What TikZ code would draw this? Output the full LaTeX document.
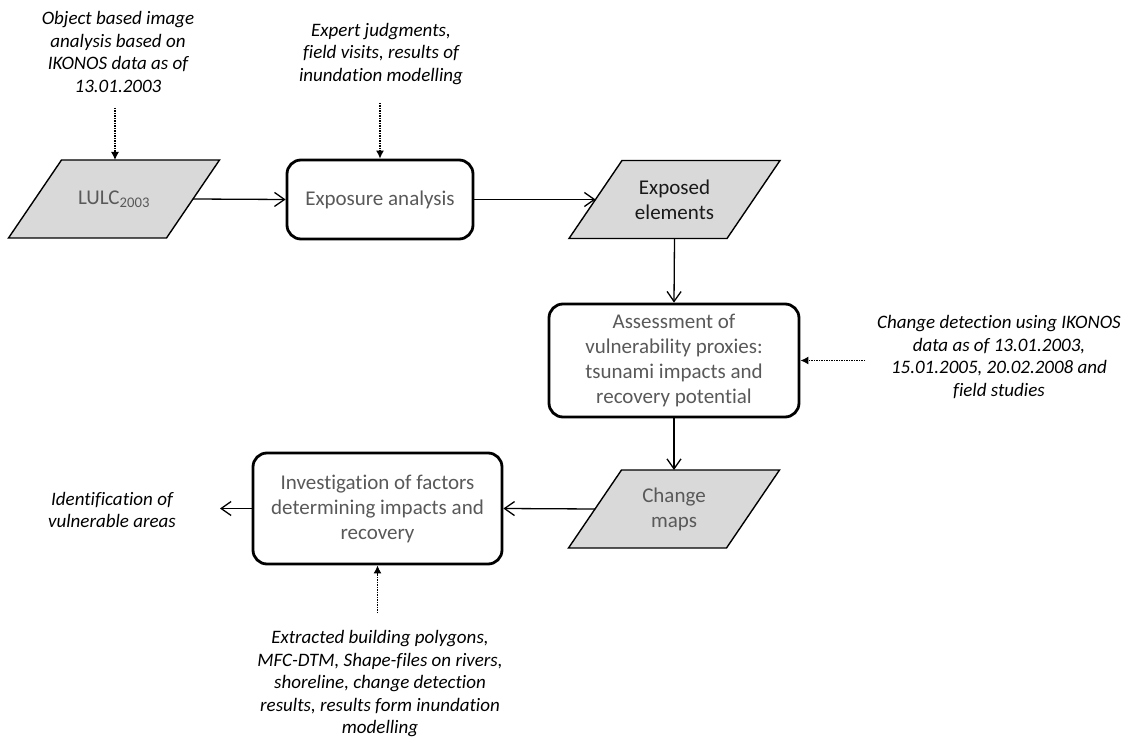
\documentclass[tikz,border=0pt]{standalone}
\usepackage{fontspec}
\setmainfont{Carlito}[Ligatures={NoCommon,NoRare}]
\usetikzlibrary{arrows.meta,backgrounds}
\definecolor{boxtext}{HTML}{595959}
\definecolor{datafill}{HTML}{D9D9D9}
\begin{document}
\begin{tikzpicture}[x=1pt,y=-1pt,
  process/.style={draw=black, line width=2.8pt, rounded corners=14pt, fill=white,
    inner sep=0pt, text=boxtext, font=\fontsize{21}{25}\selectfont, align=center},
  % text area of a data set; the slanted outline is drawn behind it
  dataset/.style={rectangle, inner sep=0pt, outer sep=0pt,
    minimum width=158pt, minimum height=78pt,
    font=\fontsize{21}{25}\selectfont, align=center, text=boxtext},
  datashape/.style={draw=black, line width=1.4pt, fill=datafill},
  note/.style={font=\fontsize{19}{22.5}\selectfont\itshape, align=center,
    inner sep=0pt, text=black},
  flow/.style={line width=1.3pt, -{Straight Barb[length=10pt,width=14pt,line width=1.3pt]}},
  feed/.style={line width=1.3pt, dash pattern=on 1.2pt off 1.3pt,
    -{Latex[length=8pt,width=8pt]}},
]
\useasboundingbox (0,0) rectangle (1128,743);

% process steps and data sets
\node[dataset] (lulc) at (114,199) {LULC\textsubscript{2003}};
\node[process, minimum width=186pt, minimum height=79pt] (expo) at (380,199.5) {Exposure analysis};
\node[dataset, text=black!90] (exel) at (674.5,199.5) {Exposed\\elements};
\node[process, minimum width=250pt, minimum height=113pt] (assess) at (674,360.5)
  {Assessment of\\vulnerability proxies:\\tsunami impacts and\\recovery potential};
\node[dataset] (chg) at (674,509) {Change\\maps};
\node[process, minimum width=249pt, minimum height=111pt] (invest) at (377.5,508.5)
  {Investigation of factors\\determining impacts and\\recovery};

% slanted outlines of the data sets
\begin{scope}[on background layer]
  \foreach \d in {lulc,exel,chg}
    \draw[datashape] ([xshift=-26.5pt]\d.south west) -- ([xshift=-26.5pt]\d.south east)
      -- ([xshift=26.5pt]\d.north east) -- ([xshift=26.5pt]\d.north west) -- cycle;
\end{scope}

% input data and outcome notes
\node[note] (objnote) at (118,52) {Object based image\\analysis based on\\IKONOS data as of\\13.01.2003};
\node[note] (expnote) at (381,54) {Expert judgments,\\field visits, results of\\inundation modelling};
\node[note] (chgnote) at (999,357) {Change detection using IKONOS\\data as of 13.01.2003,\\15.01.2005, 20.02.2008 and\\field studies};
\node[note] (idnote) at (112,510) {Identification of\\vulnerable areas};
\node[note] (extnote) at (380,684) {Extracted building polygons,\\MFC-DTM, Shape-files on rivers,\\shoreline, change detection\\results, results form inundation\\modelling};

% free ends of the input arrows
\coordinate (objtail) at (115,108);
\coordinate (exptail) at (380,103);
\coordinate (chgtail) at (865,360.5);
\coordinate (exttail) at (377.5,613);
\coordinate (idtip) at (220,508.5);

% main flow
\draw[flow] (lulc.east) -- (expo.west);
\draw[flow] (expo.east) -- (exel.west);
\draw[flow] (exel.south) -- (assess.north);
\draw[flow] (assess.south) -- (chg.north);
\draw[flow] (chg.west) -- (invest.east);
\draw[flow] (invest.west) -- (idtip);

% input data
\draw[feed] (objtail) -- (objtail |- lulc.north);
\draw[feed] (exptail) -- (expo.north);
\draw[feed] (chgtail) -- (assess.east);
\draw[feed] (exttail) -- (invest.south);
\end{tikzpicture}
\end{document}
